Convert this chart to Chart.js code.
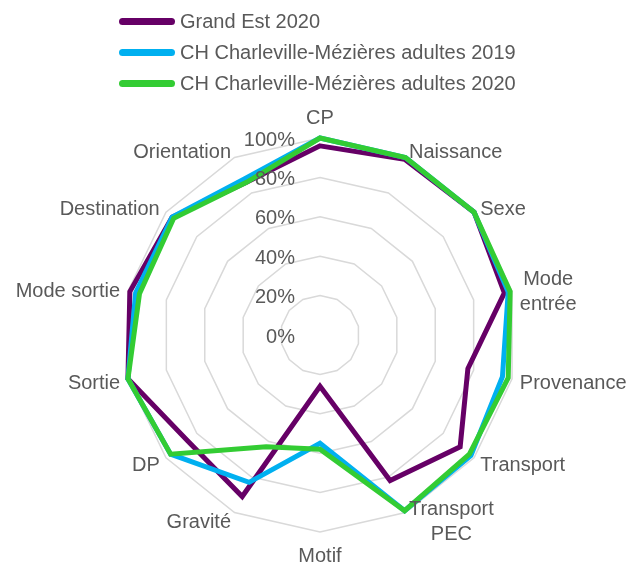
<!DOCTYPE html>
<html>
<head>
<meta charset="utf-8">
<script src="https://cdn.jsdelivr.net/npm/chart.js@4.4.1/dist/chart.umd.min.js"></script>
<style>
  html, body { margin: 0; padding: 0; background: #fff; }
  #wrap { position: relative; width: 632px; height: 563px; }
  #legend { position: absolute; left: 119px; top: 6px; font-family: "Liberation Sans", Arial, sans-serif; font-size: 20px; color: #595959; }
  #legend .row { height: 31px; display: flex; align-items: center; }
  #legend .sw { width: 56px; height: 7px; border-radius: 4px; margin-right: 5px; }
  canvas { position: absolute; left: 0; top: 0; }
</style>
</head>
<body>
<div id="wrap">
  <canvas id="myChart" width="632" height="563"></canvas>
  <div id="legend"></div>
</div>
<script>
// Catégories (axes du radar)
var categories = ['CP', 'Naissance', 'Sexe', ['Mode', 'entrée'], 'Provenance', 'Transport', ['Transport', 'PEC'],
    'Motif', 'Gravité', 'DP', 'Sortie', 'Mode sortie', 'Destination', 'Orientation'];

// Taux de remplissage (%)
var grandEst2020 = [96, 99, 100, 96, 77, 91, 82, 26, 91, 86, 100, 99, 96, 86];
var charleville2019 = [100, 100, 100, 98, 95, 98, 99, 55, 83, 97, 100, 96, 96, 88];
var charleville2020 = [100, 100, 100, 99, 98, 97, 99, 58, 63, 97, 100, 94, 95, 86];

var tickValues = [0, 20, 40, 60, 80, 100];

var seriesNames = ['Grand Est 2020', 'CH Charleville-Mézières adultes 2019', 'CH Charleville-Mézières adultes 2020'];
var seriesColors = ['#660066', '#00b0f0', '#33cc33'];

var fontFamily = '"Liberation Sans", Arial, sans-serif';
var textColor = '#595959';

// Légende en HTML (alignée à gauche comme l'original)
var legend = document.getElementById('legend');
seriesNames.forEach(function (name, i) {
    var row = document.createElement('div');
    row.className = 'row';
    row.innerHTML = '<span class="sw" style="background:' + seriesColors[i] + '"></span><span>' + name + '</span>';
    legend.appendChild(row);
});

// Graduations à gauche de l'axe vertical + libellés des axes façon Excel
var labelsPlugin = {
    id: 'radarLabels',
    afterDraw: function (chart) {
        var scale = chart.scales.r;
        var ctx = chart.ctx;
        ctx.save();
        ctx.font = '20px ' + fontFamily;
        ctx.fillStyle = textColor;
        ctx.textAlign = 'right';
        ctx.textBaseline = 'middle';
        tickValues.forEach(function (v) {
            var d = scale.getDistanceFromCenterForValue(v);
            ctx.fillText(v + '%', scale.xCenter - 25, scale.yCenter - d + 2);
        });

        var lineH = 25;
        categories.forEach(function (lab, i) {
            var lines = Array.isArray(lab) ? lab : [lab];
            var p = scale.getPointPosition(i, scale.drawingArea + 8);
            var w = Math.max.apply(null, lines.map(function (l) { return ctx.measureText(l).width; }));
            var x = p.x, y = p.y + 2.5;
            var dx = p.x - scale.xCenter;
            if (Math.abs(dx) < 2) {
                // axe vertical : au-dessus ou en dessous du point
                y += p.y < scale.yCenter ? -14 : 14;
            } else if (dx > 0) {
                x = p.x + w / 2;
            } else {
                x = p.x - w / 2;
            }
            ctx.textAlign = 'center';
            var y0 = y - (lines.length - 1) * lineH / 2;
            lines.forEach(function (l, k) {
                ctx.fillText(l, x, y0 + k * lineH);
            });
        });
        ctx.restore();
    }
};

var datasets = [grandEst2020, charleville2019, charleville2020].map(function (vals, i) {
    return {
        label: seriesNames[i],
        data: vals,
        borderColor: seriesColors[i],
        backgroundColor: 'transparent',
        borderWidth: 5,
        pointRadius: 0,
        fill: false,
        clip: 12,
        order: 2 - i
    };
});

var ctx = document.getElementById('myChart').getContext('2d');
var myChart = new Chart(ctx, {
    type: 'radar',
    data: { labels: categories, datasets: datasets },
    options: {
        responsive: false,
        animation: false,
        layout: { padding: { top: 138, left: 123, right: 114, bottom: 30 } },
        plugins: { legend: { display: false }, tooltip: { enabled: false } },
        elements: { line: { tension: 0, borderJoinStyle: 'miter' } },
        scales: {
            r: {
                min: 0,
                max: 100,
                ticks: { stepSize: 20, display: false },
                angleLines: { display: false },
                grid: { color: '#d9d9d9', lineWidth: 1.5 },
                pointLabels: { display: false }
            }
        }
    },
    plugins: [labelsPlugin]
});
</script>
</body>
</html>
